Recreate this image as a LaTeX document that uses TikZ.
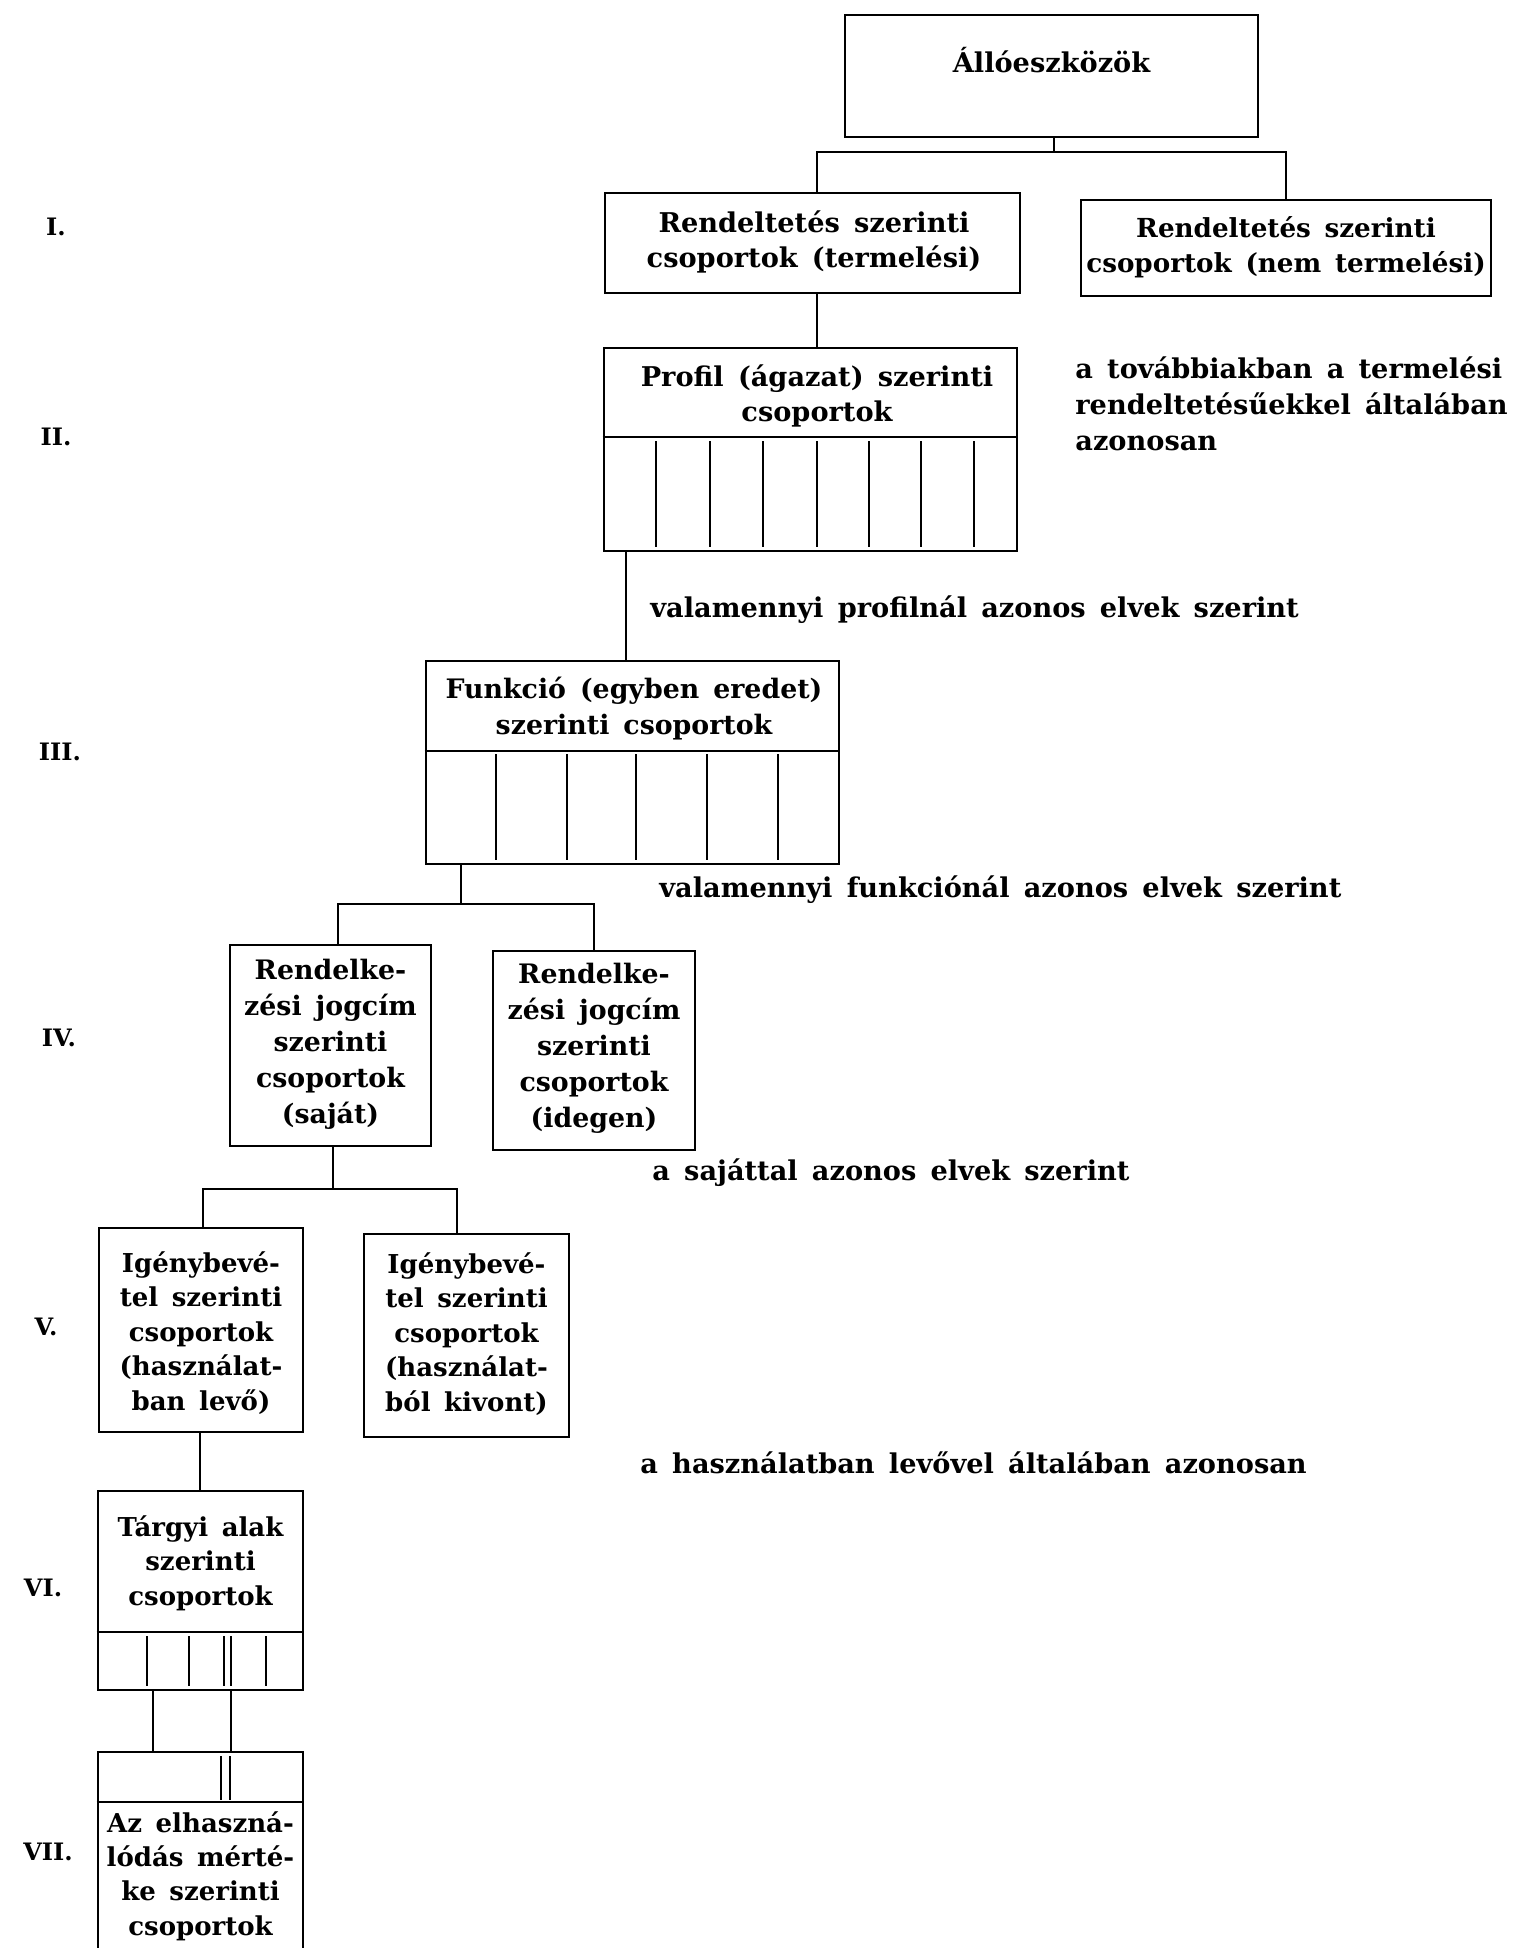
\documentclass[tikz,border=0pt]{standalone}
\usepackage{fontspec}
\setmainfont[WordSpace=1.5]{DejaVu Serif}
\begin{document}
\begin{tikzpicture}[x=0.5pt,y=-0.5pt,
  box/.style={draw,line width=1.3pt,inner sep=0pt},
  ln/.style={line width=1.1pt},
  rtxt/.style={align=center,inner sep=0pt,font=\bfseries\fontsize{13.6}{17.5}\selectfont},
  btxt/.style={align=center,inner sep=0pt,font=\bfseries\fontsize{13.4}{18}\selectfont},
  stxt/.style={align=center,inner sep=0pt,font=\bfseries\fontsize{13}{17.2}\selectfont},
  ltxt/.style={align=left,anchor=west,inner sep=0pt,font=\bfseries\fontsize{13.6}{18}\selectfont},
  num/.style={inner sep=0pt,font=\bfseries\fontsize{12}{14}\selectfont}
]
\useasboundingbox (0,0) rectangle (1515,1948);

% level labels
\node[num] (nI) at (56,227) {I.};
\node[num] (nII) at (56,437) {II.};
\node[num] (nIII) at (60,752) {III.};
\node[num] (nIV) at (59,1038) {IV.};
\node[num] (nV) at (46,1327) {V.};
\node[num] (nVI) at (43,1588) {VI.};
\node[num] (nVII) at (48,1852) {VII.};

% boxes
\node[box,minimum width=206.5pt,minimum height=61pt] (A) at (1051.5,76) {};
\node[rtxt] (tA) at (1051.5,60) {Állóeszközök};

\node[box,minimum width=207.5pt,minimum height=50pt] (B1) at (812.5,243) {};
\node[rtxt] (tB1) at (814,242) {Rendeltetés szerinti\\csoportok (termelési)};

\node[box,minimum width=205pt,minimum height=48pt] (B2) at (1286,248) {};
\node[rtxt,font=\bfseries\fontsize{13.1}{17.5}\selectfont] (tB2) at (1286,247) {Rendeltetés szerinti\\csoportok (nem termelési)};

\node[box,minimum width=206.5pt,minimum height=101.5pt] (C) at (810.5,449.5) {};
\node[rtxt] (tC) at (817,395.5) {Profil (ágazat) szerinti\\csoportok};
\draw[ln] (C.west |- 0,437) -- (C.east |- 0,437);
\foreach \x in {656,710,763,817,869,921,974} \draw[ln] (\x,441) -- (\x,547);

\node[ltxt] (note) at (1075,404) {a továbbiakban a termelési\\rendeltetésűekkel általában\\azonosan};

\node[ltxt] (v1) at (650,610) {valamennyi profilnál azonos elvek szerint};

\node[box,minimum width=206.5pt,minimum height=101.5pt] (E) at (632.5,762.5) {};
\node[btxt] (tE) at (634,708.5) {Funkció (egyben eredet)\\szerinti csoportok};
\draw[ln] (E.west |- 0,751) -- (E.east |- 0,751);
\foreach \x in {496,567,636,707,778} \draw[ln] (\x,754) -- (\x,860);

\node[ltxt] (v2) at (659,890) {valamennyi funkciónál azonos elvek szerint};

\node[box,minimum width=100.5pt,minimum height=100.5pt] (F1) at (330.5,1045.5) {};
\node[btxt] (tF1) at (330.5,1044) {Rendelke-\\zési jogcím\\szerinti\\csoportok\\(saját)};

\node[box,minimum width=101pt,minimum height=99.5pt] (F2) at (594,1050.5) {};
\node[btxt] (tF2) at (594,1048) {Rendelke-\\zési jogcím\\szerinti\\csoportok\\(idegen)};

\node[ltxt] (v3) at (652,1173) {a sajáttal azonos elvek szerint};

\node[box,minimum width=102pt,minimum height=102pt] (G1) at (201,1330) {};
\node[stxt] (tG1) at (201,1333) {Igénybevé-\\tel szerinti\\csoportok\\(használat-\\ban levő)};

\node[box,minimum width=102.5pt,minimum height=101.5pt] (G2) at (466.5,1335.5) {};
\node[stxt] (tG2) at (466.5,1334) {Igénybevé-\\tel szerinti\\csoportok\\(használat-\\ból kivont)};

\node[ltxt] (v4) at (640,1463) {a használatban levővel általában azonosan};

\node[box,minimum width=102.5pt,minimum height=99.5pt] (H) at (200.5,1590.5) {};
\node[stxt] (tH) at (200.5,1563) {Tárgyi alak\\szerinti\\csoportok};
\draw[ln] (H.west |- 0,1632) -- (H.east |- 0,1632);
\foreach \x in {147,189,224,231,266} \draw[ln] (\x,1636) -- (\x,1686);

\node[box,minimum width=102.5pt,minimum height=129pt] (K) at (200.5,1881) {};
\draw[ln] (K.west |- 0,1802) -- (K.east |- 0,1802);
\foreach \x in {221,230} \draw[ln] (\x,1756) -- (\x,1800);
\node[stxt] (tK) at (200.5,1876) {Az elhaszná-\\lódás mérté-\\ke szerinti\\csoportok};

% connectors
\coordinate (jA) at (1054,152);
\draw[ln] (A.south -| jA) -- (jA);
\draw[ln] (B1.north -| 817,0) |- (jA) -| (B2.north);
\draw[ln] (B1.south -| 817,0) -- (C.north -| 817,0);
\draw[ln] (C.south -| 626,0) -- (E.north -| 626,0);
\coordinate (jE) at (461,904);
\draw[ln] (E.south -| jE) -- (jE);
\draw[ln] (F1.north -| 338,0) |- (jE) -| (F2.north);
\coordinate (jF) at (333,1189);
\draw[ln] (F1.south -| jF) -- (jF);
\draw[ln] (G1.north -| 203,0) |- (jF) -| (G2.north -| 457,0);
\draw[ln] (G1.south -| 200,0) -- (H.north -| 200,0);
\draw[ln] (H.south -| 153,0) -- (K.north -| 153,0);
\draw[ln] (H.south -| 231,0) -- (K.north -| 231,0);
\end{tikzpicture}
\end{document}
